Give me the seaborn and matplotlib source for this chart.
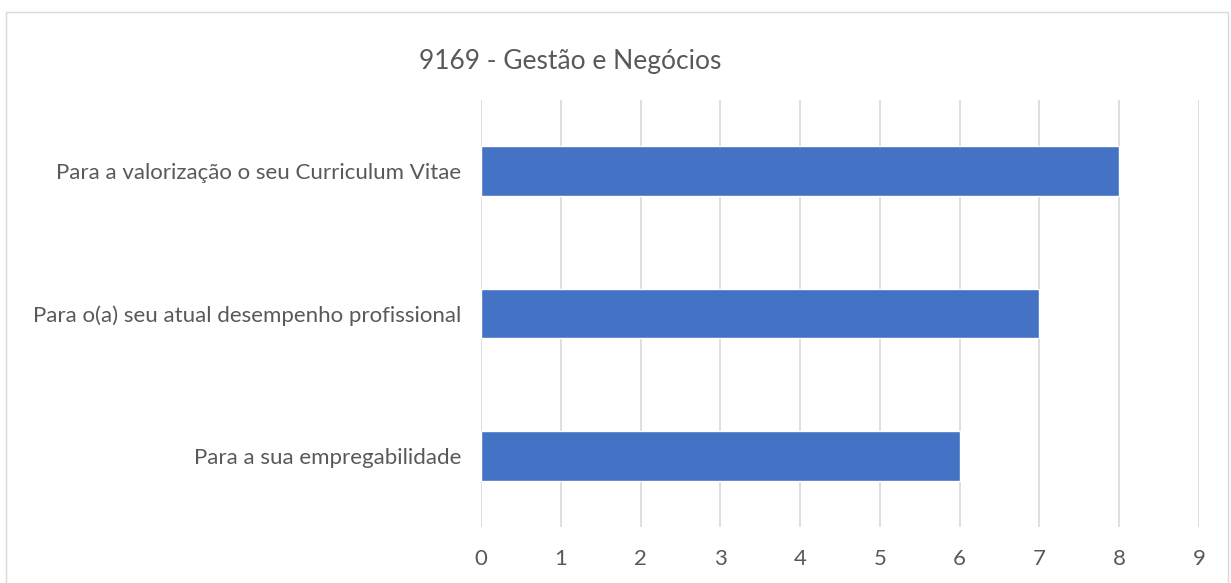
import matplotlib
matplotlib.use("Agg")
import matplotlib.pyplot as plt
from matplotlib.patches import Rectangle
import seaborn as sns
import pandas as pd

categories = ["Para a valorização o seu Curriculum Vitae",
              "Para o(a) seu atual desempenho profissional",
              "Para a sua empregabilidade"]
values = [8, 7, 6]
x_ticks = [0, 1, 2, 3, 4, 5, 6, 7, 8, 9]
title = "9169 - Gestão e Negócios"

df = pd.DataFrame({"cat": categories, "val": values})

sns.set_style("white")
plt.rcParams['font.family'] = ['Lato', 'DejaVu Sans']

fig = plt.figure(figsize=(12.31, 5.83), dpi=100)
ax = fig.add_axes([481/1231, 1 - 527/583, 718/1231, 427/583])

sns.barplot(data=df, x="val", y="cat", orient="h", color="#4472C4",
            width=0.35, saturation=1, ax=ax, zorder=3)

ax.set_xlim(0, 9)
ax.set_xticks(x_ticks)
ax.grid(axis="x", color="#d9d9d9", linewidth=1.2, zorder=0)
ax.grid(axis="y", visible=False)
ax.set_axisbelow(True)
for s in ax.spines.values():
    s.set_visible(False)
ax.set_xlabel("")
ax.set_ylabel("")
ax.tick_params(axis="both", length=0, labelcolor="#595959", labelsize=16)
ax.tick_params(axis="y", pad=14)
ax.tick_params(axis="x", pad=16)

fig.text(570/1231, 1 - 61/583, title, ha="center", va="center",
         fontsize=19, color="#595959")

fig.patches.append(Rectangle((6/1231, -0.05), 1222/1231, 1 - 12/583 + 0.05,
                             transform=fig.transFigure, fill=False,
                             edgecolor="#d9d9d9", linewidth=1))

fig.savefig("out.png", dpi=100)
